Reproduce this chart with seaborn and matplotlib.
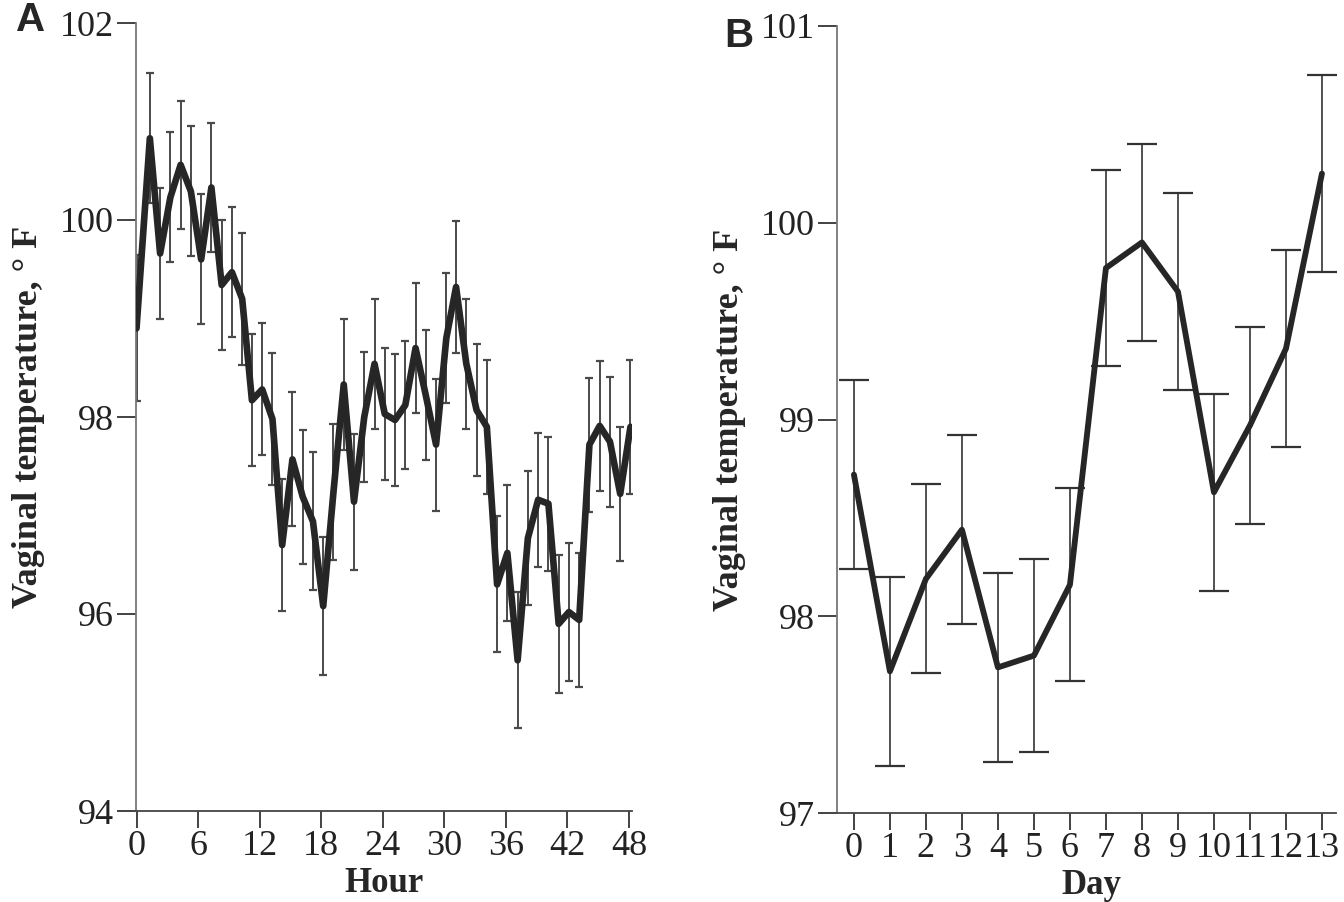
import numpy as np
import pandas as pd
import matplotlib
matplotlib.use("Agg")
import matplotlib.pyplot as plt
import seaborn as sns

# ---------------- data ----------------
hours = [0, 1.3, 2.3, 3.3, 4.3, 5.3, 6.3, 7.3, 8.3, 9.3, 10.3,
         11.25, 12.25, 13.25, 14.2, 15.2, 16.2, 17.2, 18.2, 19.2, 20.2,
         21.2, 22.2, 23.2, 24.2, 25.2, 26.2, 27.2, 28.2, 29.2, 30.2,
         31.15, 32.15, 33.15, 34.15, 35.15, 36.15, 37.15, 38.15, 39.15, 40.15,
         41.15, 42.15, 43.15, 44.15, 45.15, 46.15, 47.15, 48.15]
temp_hour = [98.9, 100.83, 99.66, 100.23, 100.56, 100.29, 99.6, 100.33, 99.34, 99.47,
             99.2, 98.17, 98.28, 97.98, 96.7, 97.57, 97.19, 96.94, 96.08, 97.24,
             98.33, 97.14, 98.0, 98.54, 98.03, 97.97, 98.12, 98.7, 98.22, 97.72,
             98.8, 99.32, 98.54, 98.07, 97.9, 96.3, 96.62, 95.53, 96.77, 97.16,
             97.12, 95.9, 96.02, 95.94, 97.72, 97.91, 97.75, 97.22, 97.9]
err_hour = [0.74, 0.66, 0.66, 0.66, 0.65, 0.66, 0.66, 0.65, 0.66, 0.66,
            0.67, 0.67, 0.67, 0.67, 0.67, 0.68, 0.68, 0.7, 0.7, 0.69,
            0.67, 0.69, 0.66, 0.66, 0.67, 0.67, 0.65, 0.66, 0.66, 0.67,
            0.66, 0.67, 0.66, 0.67, 0.68, 0.69, 0.69, 0.69, 0.68, 0.68,
            0.68, 0.7, 0.7, 0.68, 0.68, 0.66, 0.66, 0.68, 0.68]

days = [0, 1, 2, 3, 4, 5, 6, 7, 8, 9, 10, 11, 12, 13]
temp_day = [98.72, 97.72, 98.19, 98.44, 97.74, 97.8, 98.16, 99.77, 99.9, 99.65,
            98.63, 98.97, 99.36, 100.25]
err_day = [0.48, 0.48, 0.48, 0.48, 0.48, 0.49, 0.49, 0.5, 0.5, 0.5,
           0.5, 0.5, 0.5, 0.5]

hour_ticks = [0, 6, 12, 18, 24, 30, 36, 42, 48]
hour_yticks = [94, 96, 98, 100, 102]
day_yticks = [97, 98, 99, 100, 101]
ylabel_text = "Vaginal temperature, \u00b0 F"

df_h = pd.DataFrame({"Hour": hours, "Temp": temp_hour, "Err": err_hour})
df_d = pd.DataFrame({"Day": days, "Temp": temp_day, "Err": err_day})

# ---------------- style ----------------
sns.set_theme(style="ticks")
plt.rcParams["font.family"] = ["Liberation Serif", "DejaVu Serif"]
plt.rcParams["axes.linewidth"] = 1.3
plt.rcParams["axes.edgecolor"] = "#444444"

LINE_C = "#262626"
TICK_FS = 26
LAB_FS = 25

fig = plt.figure(figsize=(13.44, 9.02), dpi=100)
axA = fig.add_axes([136 / 1344, 91 / 902, 496 / 1344, 788 / 902])
axB = fig.add_axes([837 / 1344, 89 / 902, 499 / 1344, 787 / 902])

# ---------------- panel A ----------------
axA.errorbar(df_h["Hour"], df_h["Temp"], yerr=df_h["Err"], fmt="none",
             ecolor="#4a4a4a", elinewidth=1.4, capsize=2.8, capthick=1.6, zorder=2)
sns.lineplot(data=df_h, x="Hour", y="Temp", ax=axA, color=LINE_C,
             linewidth=4.8, zorder=3, errorbar=None, sort=False)
axA.set_xlim(-0.05, 48.3)
axA.set_ylim(94, 102)
axA.set_xticks(hour_ticks)
axA.set_yticks(hour_yticks)
axA.set_xlabel("Hour", fontsize=LAB_FS, fontweight="bold")
axA.set_ylabel(ylabel_text, fontsize=26, fontweight="bold")

# ---------------- panel B ----------------
axB.errorbar(df_d["Day"], df_d["Temp"], yerr=df_d["Err"], fmt="none",
             ecolor="#333333", elinewidth=1.2, capsize=11, capthick=1.6, zorder=2)
sns.lineplot(data=df_d, x="Day", y="Temp", ax=axB, color=LINE_C,
             linewidth=4.2, zorder=3, errorbar=None)
axB.set_xlim(-0.47, 13.39)
axB.set_ylim(97, 101)
axB.set_xticks(days)
axB.set_yticks(day_yticks)
axB.set_xlabel("Day", fontsize=LAB_FS, fontweight="bold")
axB.set_ylabel(ylabel_text, fontsize=26, fontweight="bold")

for ax in (axA, axB):
    sns.despine(ax=ax)
    ax.tick_params(axis="both", labelsize=TICK_FS, colors="#222222",
                   direction="out", width=1.2)
    ax.tick_params(axis="y", length=14, pad=2)
    ax.tick_params(axis="x", length=12, pad=2)
    ax.spines["left"].set_color("#777777")
    ax.spines["bottom"].set_color("#444444")
    ax.yaxis.set_label_coords(-0.183, 0.5)

axA.xaxis.set_label_coords(0.5, -0.071)
axB.xaxis.set_label_coords(0.509, -0.071)

# panel letters
fig.text(31 / 1344, 1 - 20 / 902, "A", fontsize=29, fontweight="bold",
         family=["Liberation Sans", "DejaVu Sans"], ha="center", va="center")
fig.text(739 / 1344, 1 - 36 / 902, "B", fontsize=29, fontweight="bold",
         family=["Liberation Sans", "DejaVu Sans"], ha="center", va="center")

fig.savefig("out.png", dpi=100, facecolor="white")
